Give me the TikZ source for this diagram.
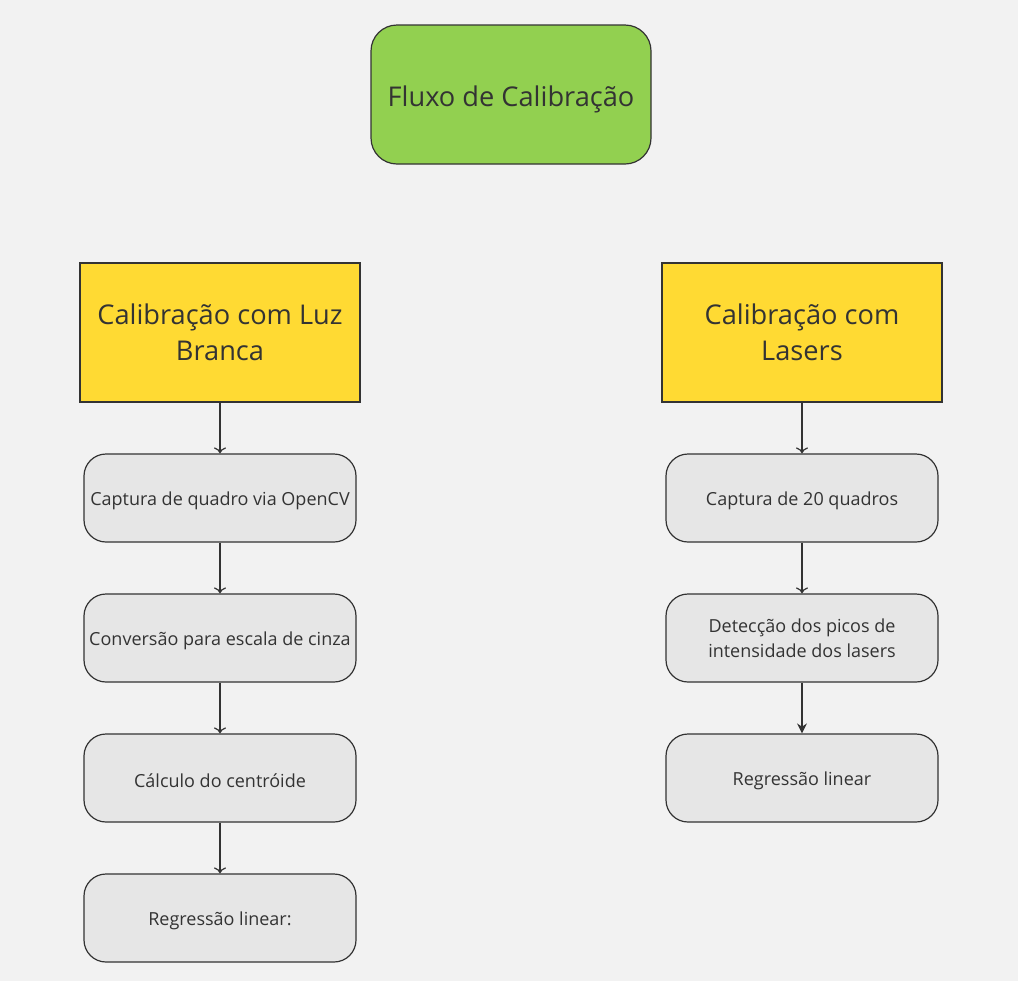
\documentclass[tikz,border=0pt]{standalone}
\usepackage{fontspec}
\setmainfont{Open Sans}
\usetikzlibrary{arrows.meta}
\definecolor{bgc}{HTML}{F2F2F2}
\definecolor{greenc}{HTML}{92D050}
\definecolor{yellowc}{HTML}{FFDA33}
\definecolor{grayc}{HTML}{E6E6E6}
\definecolor{linec}{HTML}{333333}
\newcommand{\lowtext}[2]{\raisebox{-#1}[\height][\depth]{#2}}
\begin{document}
\begin{tikzpicture}[x=0.5pt,y=-0.5pt,
  every node/.style={draw=linec,line width=0.6pt,align=center,text=linec,inner sep=2pt},
  title/.style={fill=greenc,minimum width=140pt,minimum height=69.5pt,rounded corners=13pt,font=\fontsize{13.6}{15}\selectfont},
  branch/.style={fill=yellowc,minimum width=140pt,minimum height=69.5pt,font=\fontsize{13.6}{18}\selectfont},
  stepbox/.style={fill=grayc,minimum width=136pt,minimum height=44pt,rounded corners=11pt,font=\fontsize{9}{12.5}\selectfont},
  arr/.style={draw=linec,line width=0.6pt,-{To[length=3pt,width=6pt]}},
  farr/.style={draw=linec,line width=0.6pt,-{Stealth[length=5pt,width=5pt]}}]
\fill[bgc] (0,0) rectangle (1018,981);
\node[title] (t0) at (511, 94.5) {\lowtext{2.5pt}{Fluxo de Calibração}};
\node[branch] (b1) at (220, 332.5) {Calibração com Luz\\Branca};
\node[branch] (b2) at (802, 332.5) {Calibração com\\Lasers};
\node[stepbox] (s11) at (220, 498) {\lowtext{1.5pt}{Captura de quadro via OpenCV}};
\node[stepbox] (s12) at (220, 638) {\lowtext{1.5pt}{Conversão para escala de cinza}};
\node[stepbox] (s13) at (220, 778) {\lowtext{1.5pt}{Cálculo do centróide}};
\node[stepbox] (s14) at (220, 918) {\lowtext{1.5pt}{Regressão linear:}};
\node[stepbox] (s21) at (802, 498) {\lowtext{1.5pt}{Captura de 20 quadros}};
\node[stepbox] (s22) at (802, 638) {Detecção dos picos de\\intensidade dos lasers};
\node[stepbox] (s23) at (802, 778) {\lowtext{1.5pt}{Regressão linear}};
\draw[arr] (b1.south) -- (s11.north);
\draw[arr] (s11.south) -- (s12.north);
\draw[arr] (s12.south) -- (s13.north);
\draw[arr] (s13.south) -- (s14.north);
\draw[arr] (b2.south) -- (s21.north);
\draw[arr] (s21.south) -- (s22.north);
\draw[farr] (s22.south) -- (s23.north);
\end{tikzpicture}
\end{document}
